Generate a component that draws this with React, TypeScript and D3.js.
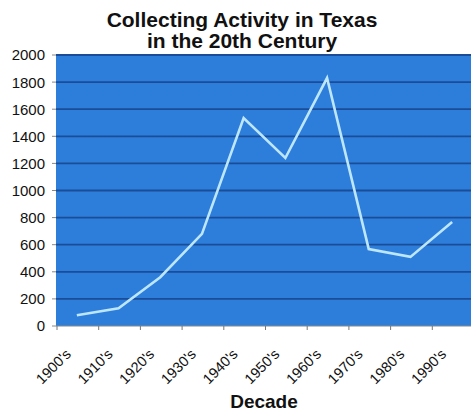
import React from "react";
import * as d3 from "d3";

const decades = ["1900's", "1910's", "1920's", "1930's", "1940's", "1950's", "1960's", "1970's", "1980's", "1990's"];
const collections = [80, 130, 360, 680, 1535, 1240, 1830, 568, 510, 767];
const yTicks = [0, 200, 400, 600, 800, 1000, 1200, 1400, 1600, 1800, 2000];
const titleLines = ["Collecting Activity in Texas", "in the 20th Century"];
const xTitle = "Decade";

export default function App() {
    const width = 471;
    const height = 413;
    const marginLeft = 56;
    const plotRight = 473;
    const plotTop = 55;
    const plotBottom = 326;

    const x = d3.scaleBand().domain(decades).range([marginLeft, plotRight]);
    const y = d3.scaleLinear().domain([0, 2000]).range([plotBottom, plotTop]);

    const line = d3
        .line<number>()
        .x((d, i) => x(decades[i])! + x.bandwidth() / 2)
        .y((d) => y(d));

    // tick marks sit on category boundaries, like excel does
    const boundaries = decades.map((d) => x(d)!);

    return (
        <svg
            width={width}
            height={height}
            style={{ position: "absolute", left: 0, top: 0, background: "#fff" }}
            fontFamily="Liberation Sans, Arial, sans-serif"
        >
            {titleLines.map((t, i) => (
                <text key={t} x={242} y={27 + i * 21} textAnchor="middle" fontSize={21} fontWeight="bold" fill="#111">
                    {t}
                </text>
            ))}

            <rect x={marginLeft} y={plotTop} width={plotRight - marginLeft} height={plotBottom - plotTop} fill="#2d7edb" />

            {yTicks.slice(1).map((t) => (
                <line key={t} x1={marginLeft} x2={plotRight} y1={y(t)} y2={y(t)} stroke="#1b4c98" strokeWidth={1.8} />
            ))}

            {yTicks.map((t) => (
                <g key={t}>
                    <line x1={marginLeft - 4} x2={marginLeft} y1={y(t)} y2={y(t)} stroke="#888" />
                    <text x={45} y={y(t)} dy="0.36em" textAnchor="end" fontSize={15} fill="#111">
                        {t}
                    </text>
                </g>
            ))}

            <line x1={marginLeft} x2={plotRight} y1={plotBottom} y2={plotBottom} stroke="#888" />
            {boundaries.map((b, i) => (
                <line key={i} x1={b + 1} x2={b + 1} y1={plotBottom} y2={plotBottom + 4} stroke="#777" />
            ))}

            <path d={line(collections) ?? ""} fill="none" stroke="#bde6ff" strokeWidth={2.6} strokeLinejoin="miter" />

            {decades.map((d) => {
                const cx = x(d)! + x.bandwidth() / 2 - 5;
                return (
                    <text
                        key={d}
                        transform={`translate(${cx},355) rotate(-45)`}
                        textAnchor="end"
                        fontSize={14.5}
                        fill="#111"
                    >
                        {d}
                    </text>
                );
            })}

            <text x={264} y={408} textAnchor="middle" fontSize={19} fontWeight="bold" fill="#111">
                {xTitle}
            </text>
        </svg>
    );
}
